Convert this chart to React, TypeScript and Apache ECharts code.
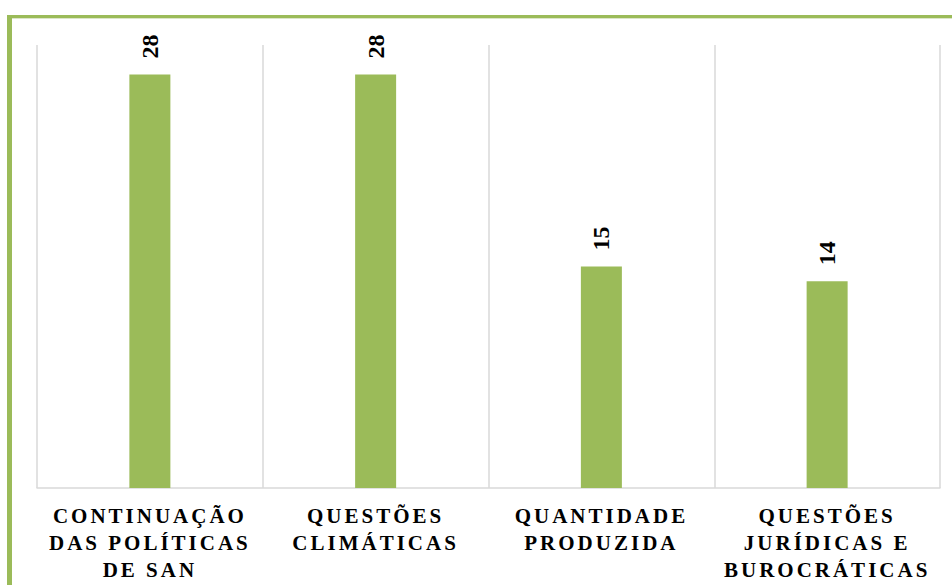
import React, { useEffect, useRef } from "react";
import * as echarts from "echarts";

// Categories (line breaks as printed under each bar)
const categories = [
  "CONTINUAÇÃO\nDAS POLÍTICAS\nDE SAN",
  "QUESTÕES\nCLIMÁTICAS",
  "QUANTIDADE\nPRODUZIDA",
  "QUESTÕES\nJURÍDICAS E\nBUROCRÁTICAS",
];
const values = [28, 28, 15, 14];

const GREEN = "#9BBB59";
const GRID_GREY = "#D9D9D9";
const SERIF = "Liberation Serif";
const CAT_SIZE = 21;

export default function App() {
  const ref = useRef<HTMLDivElement>(null);

  useEffect(() => {
    if (!ref.current) return;
    const chart = echarts.init(ref.current, undefined, { renderer: "svg" });
    chart.setOption({
      animation: false,
      backgroundColor: "#ffffff",
      grid: { left: 37, right: 12, top: 45, bottom: 97, containLabel: false },
      graphic: [
        { type: "rect", shape: { x: 7, y: 15, width: 5, height: 600 }, style: { fill: GREEN } },
        { type: "rect", shape: { x: 7, y: 15, width: 960, height: 3 }, style: { fill: GREEN } },
        { type: "rect", shape: { x: 12, y: 18, width: 960, height: 1 }, style: { fill: "#DCE6C8" } },
      ],
      xAxis: {
        type: "category",
        data: categories,
        axisLine: { show: true, lineStyle: { color: GRID_GREY, width: 1.5 } },
        axisTick: { show: false },
        splitLine: { show: true, lineStyle: { color: GRID_GREY, width: 1.5 } },
        axisLabel: {
          interval: 0,
          margin: 14,
          color: "#000000",
          fontFamily: SERIF,
          fontWeight: "bold",
          fontSize: CAT_SIZE,
          lineHeight: 27,
        },
      },
      yAxis: {
        type: "value",
        min: 0,
        max: 30,
        show: false,
        splitLine: { show: false },
      },
      series: [
        {
          type: "bar",
          data: values,
          barWidth: 41,
          itemStyle: { color: GREEN },
          label: {
            show: true,
            position: "top",
            rotate: 90,
            distance: 16,
            align: "left",
            verticalAlign: "middle",
            color: "#000000",
            fontFamily: SERIF,
            fontWeight: "bold",
            fontSize: 24,
          },
        },
      ],
    });
    return () => chart.dispose();
  }, []);

  return (
    <>
      <style>{`
        text[style*="${CAT_SIZE}px"], text[font-size="${CAT_SIZE}px"], text[font-size="${CAT_SIZE}"] { letter-spacing: 3px; }
      `}</style>
      <div
        ref={ref}
        style={{ position: "fixed", left: 0, top: 0, width: 952, height: 585 }}
      />
    </>
  );
}
